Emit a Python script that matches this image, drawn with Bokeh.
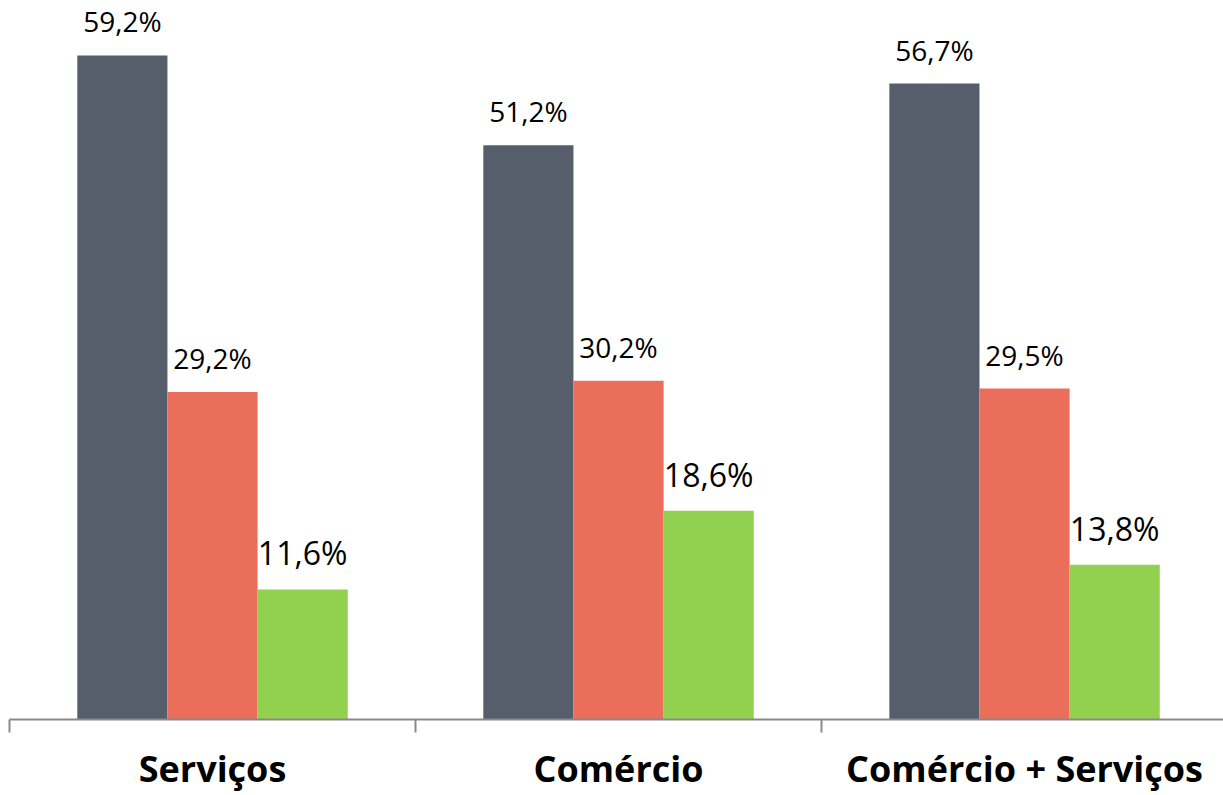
from bokeh.plotting import figure
from bokeh.models import ColumnDataSource, FixedTicker, Range1d
from bokeh.core.properties import value
from bokeh.embed import file_html
from bokeh.resources import INLINE

categories = ["Serviços", "Comércio", "Comércio + Serviços"]
series_a = [59.2, 51.2, 56.7]
series_b = [29.2, 30.2, 29.5]
series_c = [11.6, 18.6, 13.8]
label_a = ["59,2%", "51,2%", "56,7%"]
label_b = ["29,2%", "30,2%", "29,5%"]
label_c = ["11,6%", "18,6%", "13,8%"]

colors = ["#565E6B", "#EA6E5A", "#92D050"]
offsets = [-0.222, 0.0, 0.222]
bar_w = 0.222
font_sizes = ["28px", "28px", "32px"]

p = figure(width=1223, height=795, output_backend="svg", toolbar_location=None,
           x_range=Range1d(0, 2.99), y_range=Range1d(0, 64.1),
           min_border_left=9, min_border_right=0, min_border_top=0, min_border_bottom=0)

centers = [i + 0.5 for i in range(len(categories))]
for vals, labs, col, off, fs in zip([series_a, series_b, series_c],
                                    [label_a, label_b, label_c],
                                    colors, offsets, font_sizes):
    src = ColumnDataSource(dict(x=[c + off for c in centers], top=vals, lab=labs))
    p.vbar(x="x", top="top", bottom=0, width=bar_w, source=src,
           fill_color=col, line_color=None)
    p.text(x="x", y="top", text="lab", source=src, text_align="center",
           text_baseline="bottom", y_offset=-15, text_font=value("Open Sans"),
           text_font_size=fs, text_color="black")

p.yaxis.visible = False
p.grid.visible = False
p.outline_line_color = None
p.background_fill_color = "white"

ax = p.xaxis[0]
ax.ticker = FixedTicker(ticks=centers, minor_ticks=[0, 1, 2, 3])
ax.major_label_overrides = {c: n for c, n in zip(centers, categories)}
ax.major_tick_out = 0
ax.major_tick_in = 0
ax.minor_tick_out = 13
ax.minor_tick_in = 0
ax.minor_tick_line_color = "#898989"
ax.minor_tick_line_width = 2
ax.axis_line_color = "#898989"
ax.axis_line_width = 2
ax.major_label_standoff = 11
ax.major_label_text_font = "Open Sans"
ax.major_label_text_font_style = "bold"
ax.major_label_text_font_size = "36px"
ax.major_label_text_color = "black"

open("out.html", "w").write(file_html(p, INLINE))
